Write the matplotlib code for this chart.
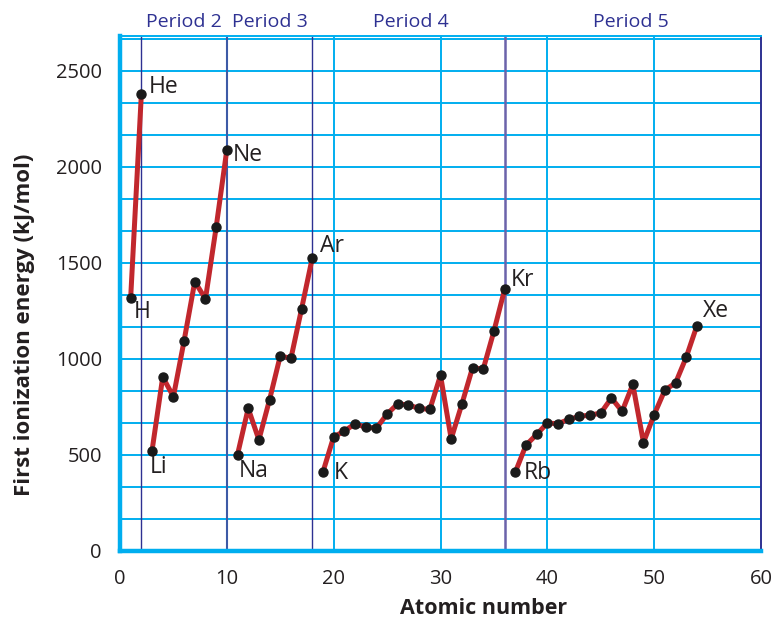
import matplotlib
matplotlib.use("Agg")
import matplotlib.pyplot as plt
import numpy as np

plt.rcParams['font.family'] = ['Open Sans', 'DejaVu Sans']

# Data
periods_z = [
    [1, 2],
    [3, 4, 5, 6, 7, 8, 9, 10],
    [11, 12, 13, 14, 15, 16, 17, 18],
    [19, 20, 21, 22, 23, 24, 25, 26, 27, 28, 29, 30, 31, 32, 33, 34, 35, 36],
    [37, 38, 39, 40, 41, 42, 43, 44, 45, 46, 47, 48, 49, 50, 51, 52, 53, 54],
]
periods_ie = [
    [1320, 2380],
    [523, 906, 804, 1095, 1403, 1313, 1686, 2090],
    [502, 743, 579, 788, 1016, 1003, 1262, 1527],
    [412, 595, 624, 663, 645, 640, 713, 767, 760, 743, 737, 915, 584, 765, 955, 947, 1145, 1362],
    [410, 551, 607, 666, 663, 685, 701, 708, 718, 797, 727, 868, 565, 710, 838, 875, 1009, 1173],
]
label_names = ["H", "He", "Li", "Ne", "Na", "Ar", "K", "Kr", "Rb", "Xe"]
label_z = [1, 2, 3, 10, 11, 18, 19, 36, 37, 54]
label_ie = [1320, 2380, 523, 2090, 502, 1527, 412, 1362, 410, 1173]
label_offsets = [(0.3, -75), (0.7, 35), (-0.2, -85), (0.6, -30), (0.1, -85),
                 (0.7, 60), (1.0, -5), (0.6, 50), (0.8, -5), (0.6, 75)]

period_names = ["Period 2", "Period 3", "Period 4", "Period 5"]
period_x = [6.0, 14.0, 27.2, 47.8]
period_lines = [2, 10, 18, 36]
period_line_colors = ["#2e3192", "#3d5aa6", "#2e3192", "#6b63aa"]
period_line_widths = [1.0, 1.5, 1.0, 1.8]

xticks = [0, 10, 20, 30, 40, 50, 60]
yticks = [0, 500, 1000, 1500, 2000, 2500]

text_color = "#231f20"
grid_color = "#00aeef"
line_color = "#c1272d"

fig = plt.figure(figsize=(7.76, 6.21), dpi=100)
ax = fig.add_axes([120/776, 70/621, (761-120)/776, (551-36)/621])

ax.set_xlim(0, 60)
ax.set_ylim(0, 2682)

# grid
for gy in np.arange(1, 17) * (500/3):
    if gy < 2682:
        ax.axhline(gy, color=grid_color, lw=1.4, zorder=1)
for gx in [20, 30, 40, 50]:
    ax.axvline(gx, color=grid_color, lw=1.4, zorder=1)

for px, c, w in zip(period_lines, period_line_colors, period_line_widths):
    ax.axvline(px, color=c, lw=w, zorder=2)

for z, ie in zip(periods_z, periods_ie):
    ax.plot(z, ie, color=line_color, lw=3.6, zorder=3, solid_capstyle='butt')
    ax.plot(z, ie, 'o', color="#1a1a1a", ms=6.5, zorder=4)

for name, z, ie, (dx, dy) in zip(label_names, label_z, label_ie, label_offsets):
    ax.text(z + dx, ie + dy, name, fontsize=16.5, color=text_color, ha='left',
            va='center', zorder=5)

for name, x in zip(period_names, period_x):
    ax.text(x, 1.0 + 14/515, name, transform=ax.get_xaxis_transform(),
            fontsize=14, color="#2e3192", ha='center', va='center')

# spines
ax.spines['left'].set_color(grid_color)
ax.spines['left'].set_linewidth(3.2)
ax.spines['bottom'].set_color(grid_color)
ax.spines['bottom'].set_linewidth(3.2)
ax.spines['top'].set_color(grid_color)
ax.spines['top'].set_linewidth(1.4)
ax.spines['right'].set_color("#2e3192")
ax.spines['right'].set_linewidth(1.4)

ax.set_xticks(xticks)
ax.set_yticks(yticks)
ax.set_xticklabels([str(t) for t in xticks])
ax.set_yticklabels([str(t) for t in yticks])
ax.tick_params(axis='both', length=0, labelsize=14.5, colors=text_color)
ax.tick_params(axis='y', pad=13)
ax.tick_params(axis='x', pad=13)

ax.set_xlabel("Atomic number", fontsize=15.5, fontweight='bold', color=text_color,
              va='center')
ax.xaxis.set_label_coords((484-120)/641, -(608-551)/515)
ax.set_ylabel("First ionization energy (kJ/mol)", fontsize=16, fontweight='bold',
              color=text_color, va='center')
ax.yaxis.set_label_coords(-(120-25)/641, (551-325)/515)

fig.savefig("out.png", dpi=100)
